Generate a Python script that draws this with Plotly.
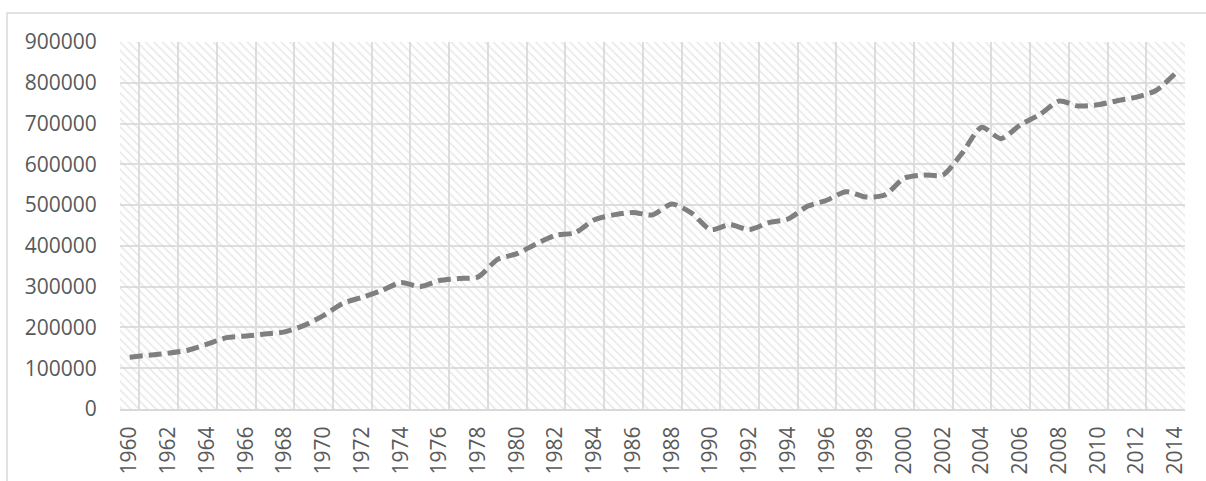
import plotly.graph_objects as go

years = list(range(1960, 2015))
values = [
    127000, 132000, 137000, 144000, 159000, 175000, 179000, 184000, 189000, 205000,
    229000, 259000, 274000, 290000, 310000, 300000, 315000, 320000, 324000, 367000,
    381000, 405000, 426000, 432000, 464000, 476000, 482000, 476000, 503000, 481000,
    440000, 452000, 440000, 457000, 466000, 497000, 512000, 533000, 520000, 525000,
    566000, 574000, 574000, 628000, 691000, 663000, 697000, 722000, 755000, 743000,
    746000, 756000, 765000, 781000, 823000,
]
x_tick_vals = years[::2]
x_tick_text = [str(y) for y in x_tick_vals]
y_tick_vals = list(range(0, 900001, 100000))
Y_MAX = 900000

W, H = 1206, 481
L, R, T, B = 120, 21, 42, 72
pw, ph = W - L - R, H - T - B

x0, x1 = years[0] - 0.5, years[-1] + 0.5
grid_x = [x0 + 0.001] + [y + 0.5 for y in years[::2]]

font = dict(family="Open Sans, Noto Sans, sans-serif", size=21, color="#595959")

fig = go.Figure()
# hatched plot-area background
fig.add_trace(go.Scatter(
    x=[x0, x1, x1, x0, x0], y=[0, 0, Y_MAX, Y_MAX, 0],
    fill="toself", mode="lines", line=dict(width=0),
    fillcolor="rgba(255,255,255,0)",
    fillpattern=dict(shape="\\", size=6, solidity=0.28, fgcolor="#d4d4d4",
                     bgcolor="rgba(255,255,255,0)"),
    hoverinfo="skip", showlegend=False,
))
fig.add_trace(go.Scatter(
    x=years, y=values, mode="lines",
    line=dict(color="#7f7f7f", width=5, dash="13px,6px", shape="spline", smoothing=0.7),
    showlegend=False,
))

fig.update_layout(
    width=W, height=H,
    margin=dict(l=L, r=R, t=T, b=B, autoexpand=False),
    paper_bgcolor="white", plot_bgcolor="white",
    font=font,
    xaxis=dict(
        range=[x0, x1], tickmode="array", tickvals=x_tick_vals, ticktext=x_tick_text,
        tickangle=-90, showgrid=False, zeroline=False,
        ticks="outside", ticklen=7, tickcolor="rgba(0,0,0,0)",
        showline=True, linecolor="#d9d9d9", linewidth=2,
        minor=dict(tickmode="array", tickvals=grid_x, showgrid=True,
                   gridcolor="#dedede", gridwidth=1.5, ticks=""),
        automargin=False,
    ),
    yaxis=dict(
        range=[0, Y_MAX], tickmode="array", tickvals=y_tick_vals,
        ticktext=[str(v) for v in y_tick_vals],
        showgrid=True, gridcolor="#dedede", gridwidth=1.5, zeroline=False,
        ticks="outside", ticklen=18, tickcolor="rgba(0,0,0,0)",
        automargin=False,
    ),
    shapes=[dict(
        type="rect", xref="paper", yref="paper",
        x0=(7 - L) / pw, x1=(W + 10 - L) / pw,
        y0=-(H + 10 - (H - B)) / ph, y1=1 + (T - 13) / ph,
        line=dict(color="#d9d9d9", width=1.5), fillcolor="rgba(0,0,0,0)", layer="below",
    )],
)

fig.write_html("out.html", config={"displayModeBar": False},
               post_script="document.body.style.margin='0';document.body.style.padding='0';")
